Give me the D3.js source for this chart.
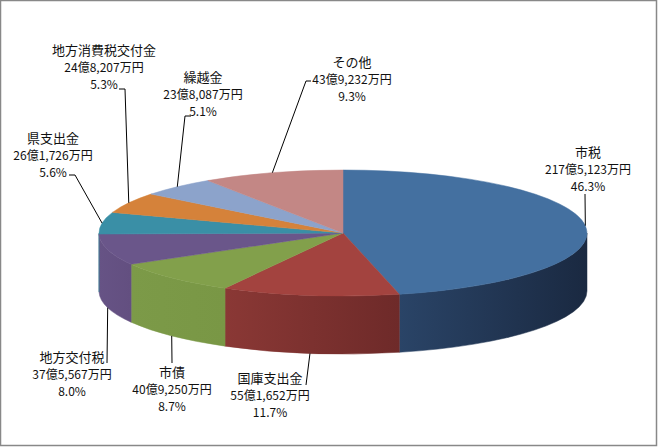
<!DOCTYPE html>
<html>
<head>
<meta charset="utf-8">
<script src="https://cdn.jsdelivr.net/npm/d3@7"></script>
<style>
  body { margin: 0; background: #fff; }
  svg { display: block; }
  .lbl { font-family: "Noto Sans CJK JP", "Noto Sans", sans-serif; font-size: 12px; fill: #111; }
  .lbl .nm { font-size: 13px; }
</style>
</head>
<body>
<svg id="chart"></svg>
<script>
// revenue breakdown, amounts in 万円
const categories = ["市税", "国庫支出金", "市債", "地方交付税", "県支出金", "地方消費税交付金", "繰越金", "その他"];
const amounts = [2175123, 551652, 409250, 375567, 261726, 248207, 238087, 439232];

const topColors = ["#4470A0", "#A3433F", "#82A04B", "#6A568A", "#3A8FA6", "#D5823A", "#8CA3CB", "#C38785"];
const wallLight = ["#2A4467", "#8A3835", "#7C9A48", "#665385", "#367F94", "#B86F30", "#7A90B5", "#A87472"];
const wallDark  = ["#1A2941", "#6E2A29", "#799745", "#634F80", "#367F94", "#B86F30", "#7A90B5", "#A87472"];

// where Excel put each label, plus the label end of its leader line
const labelLayout = {
    "市税":           { x: 588, y: 152, leader: [[585, 194]] },
    "国庫支出金":     { x: 270, y: 378, leader: [[306, 385]] },
    "市債":           { x: 172, y: 372, leader: [[172, 363]] },
    "地方交付税":     { x: 72,  y: 357, leader: [[107, 363]] },
    "県支出金":       { x: 53,  y: 138, leader: [[69, 175], [75, 175]] },
    "地方消費税交付金": { x: 104, y: 50,  leader: [[119, 89], [125, 89]] },
    "繰越金":         { x: 203, y: 77,  leader: [[191, 116], [185, 116]] },
    "その他":         { x: 352, y: 62,  leader: [[311, 81], [306, 81]] }
};

const W = 659, H = 448;
const cx = 343, cy = 233, rx = 244, ry = 63, depth = 58;

const data = categories.map((c, i) => ({ name: c, value: amounts[i], i }));
const total = d3.sum(data, d => d.value);

const svg = d3.select("#chart").attr("width", W).attr("height", H);

svg.append("rect")
    .attr("x", 0.5).attr("y", 0.5)
    .attr("width", 656).attr("height", 445)
    .attr("fill", "#fff")
    .attr("stroke", "#888")
    .attr("stroke-width", 1.5);

const pie = d3.pie().sort(null).value(d => d.value).startAngle(0).endAngle(2 * Math.PI);
const arcs = pie(data);

// projection of a pie angle onto the tilted ellipse
const px = t => cx + rx * Math.sin(t);
const py = t => cy - ry * Math.cos(t);

const defs = svg.append("defs");

// front walls
const walls = svg.append("g");
arcs.forEach(d => {
    const a = Math.max(d.startAngle, Math.PI / 2);
    const b = Math.min(d.endAngle, 3 * Math.PI / 2);
    if (b <= a) return;
    const gid = "wall" + d.data.i;
    const g = defs.append("linearGradient")
        .attr("id", gid)
        .attr("gradientUnits", "userSpaceOnUse")
        .attr("x1", px(b)).attr("y1", 0)
        .attr("x2", px(a)).attr("y2", 0);
    g.append("stop").attr("offset", "0%").attr("stop-color", wallLight[d.data.i]);
    g.append("stop").attr("offset", "100%").attr("stop-color", wallDark[d.data.i]);

    const p = `M${px(a)},${py(a)} A${rx},${ry} 0 0 1 ${px(b)},${py(b)}`
        + ` L${px(b)},${py(b) + depth} A${rx},${ry} 0 0 0 ${px(a)},${py(a) + depth} Z`;
    walls.append("path")
        .attr("d", p)
        .attr("fill", `url(#${gid})`)
        .attr("stroke", `url(#${gid})`)
        .attr("stroke-width", 0.5);
});

// top faces
const tops = svg.append("g");
arcs.forEach(d => {
    const a = d.startAngle, b = d.endAngle;
    const large = (b - a) > Math.PI ? 1 : 0;
    tops.append("path")
        .attr("d", `M${cx},${cy} L${px(a)},${py(a)} A${rx},${ry} 0 ${large} 1 ${px(b)},${py(b)} Z`)
        .attr("fill", topColors[d.data.i])
        .attr("stroke", topColors[d.data.i])
        .attr("stroke-width", 0.5);
});

// leader lines
const fmtPct = d3.format(".1%");
const fmtComma = d3.format(",");
const fmtAmount = v => `${Math.floor(v / 10000)}億${fmtComma(v % 10000)}万円`;

const leaders = svg.append("g");
arcs.forEach(d => {
    const lay = labelLayout[d.data.name];
    const mid = (d.startAngle + d.endAngle) / 2;
    const ax = px(mid);
    const ay = py(mid) + (Math.cos(mid) < 0 ? depth : 0);
    const pts = lay.leader.concat([[ax, ay]]);
    leaders.append("path")
        .attr("d", d3.line()(pts))
        .attr("fill", "none")
        .attr("stroke", "#000")
        .attr("stroke-width", 1);
});

// labels
const labels = svg.append("g");
arcs.forEach(d => {
    const lay = labelLayout[d.data.name];
    const t = labels.append("text")
        .attr("class", "lbl")
        .attr("text-anchor", "middle")
        .attr("x", lay.x)
        .attr("y", lay.y + 4.5);
    t.append("tspan").attr("class", "nm").attr("x", lay.x).attr("dy", 0).text(d.data.name);
    t.append("tspan").attr("x", lay.x).attr("dy", 17.5).text(fmtAmount(d.data.value));
    t.append("tspan").attr("x", lay.x).attr("dy", 16.5).text(fmtPct(d.data.value / total));
});
</script>
</body>
</html>
